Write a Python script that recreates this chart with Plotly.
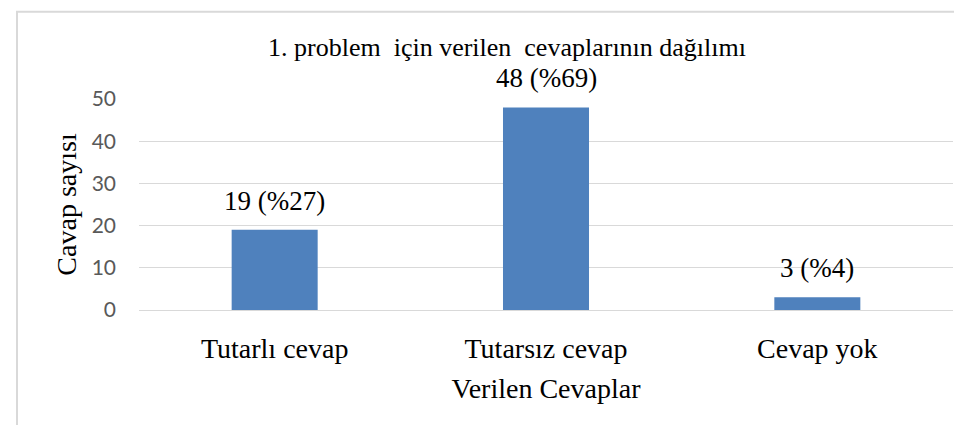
import plotly.graph_objects as go

# ---- data ----
categories = ["Tutarlı cevap", "Tutarsız cevap", "Cevap yok"]
counts = [19, 48, 3]
percents = [27, 69, 4]
y_ticks = [0, 10, 20, 30, 40, 50]

chart_title = "1. problem  için verilen  cevaplarının dağılımı"
x_title = "Verilen Cevaplar"
y_title = "Cavap sayısı"

# ---- geometry (pixels) ----
W, H = 962, 425
L, R, T, B = 131, 17, 91, 123
PW, PH = W - L - R, H - T - B

SERIF = "Liberation Serif, Times New Roman, serif"
SANS = "Lato, Liberation Sans, sans-serif"
GRID = "#d9d9d9"

fig = go.Figure()
fig.add_trace(go.Bar(
    x=categories, y=counts,
    marker=dict(color="#4f81bd", line=dict(width=0)),
    hoverinfo="x+y",
))

for c, v, p in zip(categories, counts, percents):
    fig.add_annotation(
        x=c, y=v, xref="x", yref="y",
        text=f"{v} (%{p})", showarrow=False,
        yanchor="bottom", yshift=12,
        font=dict(family=SERIF, size=27, color="#000000"),
    )

def px_x(px):
    return (px - L) / PW

def px_y(py):
    return (H - B - py) / PH

# outer chart-area frame
fig.add_shape(
    type="rect", xref="paper", yref="paper",
    x0=px_x(9), x1=px_x(990), y0=px_y(450), y1=px_y(3.7),
    line=dict(color=GRID, width=2), fillcolor="rgba(0,0,0,0)", layer="below",
)

fig.update_layout(
    width=W, height=H,
    margin=dict(l=L, r=R, t=T, b=B, pad=0),
    paper_bgcolor="white", plot_bgcolor="white",
    bargap=0.683, showlegend=False,
    font=dict(family=SERIF, color="#000000"),
    title=dict(
        text=chart_title, x=499 / W, xanchor="center", xref="container",
        y=1 - 39 / H, yanchor="middle", yref="container",
        font=dict(family=SERIF, size=26, color="#000000"),
    ),
    xaxis=dict(
        type="category",
        tickfont=dict(family=SERIF, size=28, color="#000000"),
        showgrid=False, showline=False, zeroline=False,
        ticks="", ticklabelstandoff=19,
        title=dict(text=x_title, standoff=15,
                   font=dict(family=SERIF, size=28, color="#000000")),
    ),
    yaxis=dict(
        range=[0, 50], tickvals=y_ticks, ticktext=[str(t) for t in y_ticks],
        tickfont=dict(family=SANS, size=21, color="#595959"),
        showgrid=True, gridcolor=GRID, gridwidth=1.3,
        zeroline=True, zerolinecolor=GRID, zerolinewidth=1.3,
        showline=False, ticks="", ticklabelstandoff=22,
        title=dict(text=y_title, standoff=6,
                   font=dict(family=SERIF, size=28, color="#000000")),
    ),
)

fig.write_html("out.html")
